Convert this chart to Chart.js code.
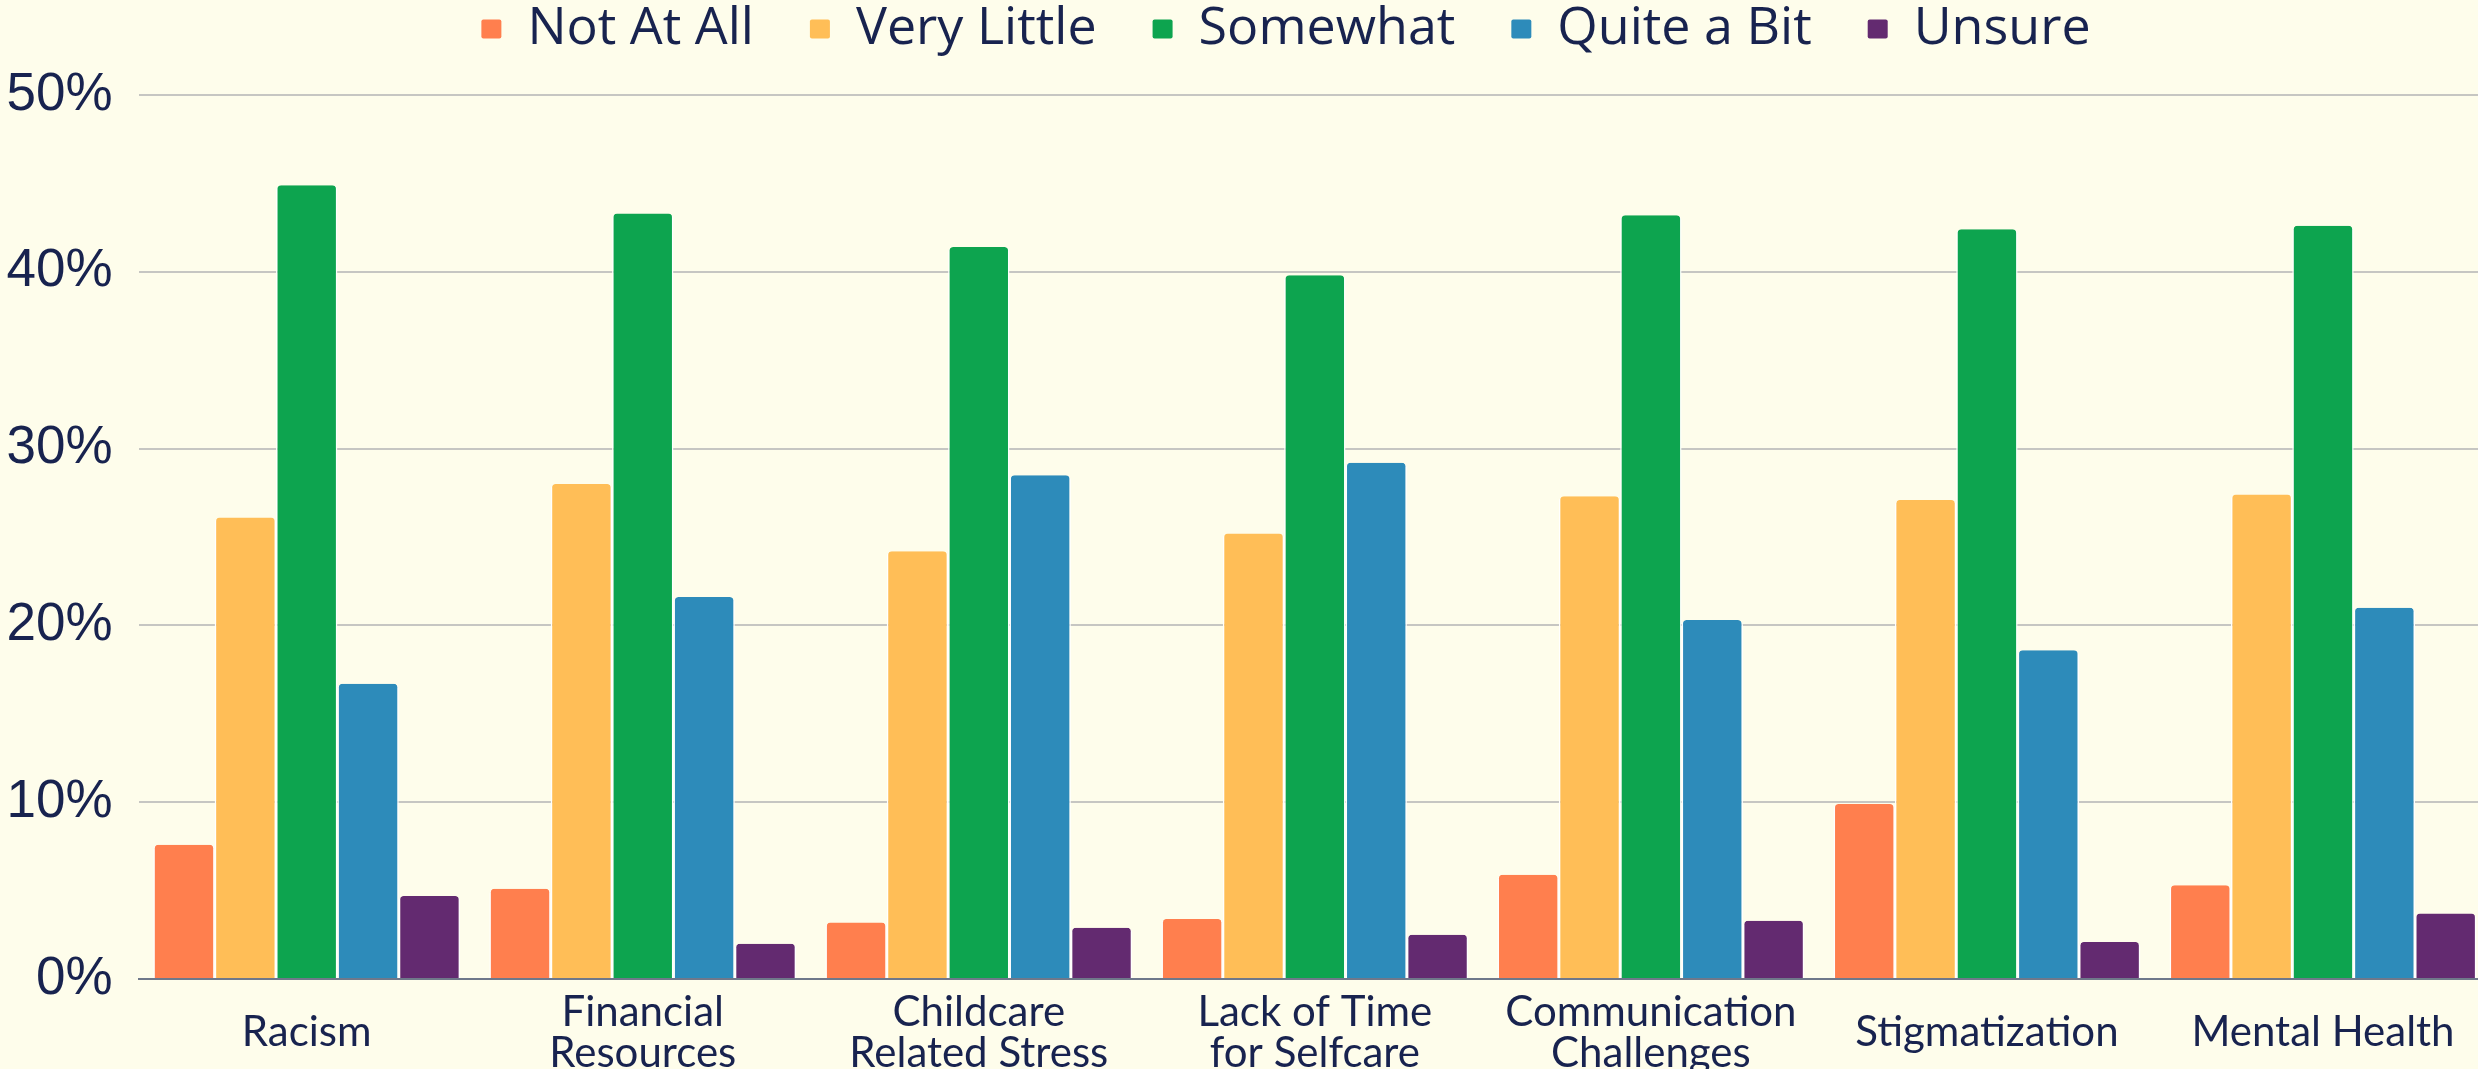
<!DOCTYPE html>
<html>
<head>
<meta charset="utf-8">
<script src="https://cdn.jsdelivr.net/npm/chart.js"></script>
<style>
  html, body { margin: 0; padding: 0; background: #fefdeb; overflow: hidden; }
  #wrap { width: 2478px; height: 1069px; overflow: hidden; }
  canvas { display: block; }
</style>
</head>
<body>
<div id="wrap"><canvas id="barrierChart" width="2491" height="1069" style="width:2491px;height:1069px"></canvas></div>
<script>
// categories and answers (percent of respondents)
const categories = [
    'Racism',
    ['Financial', 'Resources'],
    ['Childcare', 'Related Stress'],
    ['Lack of Time', 'for Selfcare'],
    ['Communication', 'Challenges'],
    'Stigmatization',
    'Mental Health'
];
const seriesNames = ['Not At All', 'Very Little', 'Somewhat', 'Quite a Bit', 'Unsure'];
const notAtAll = [7.6, 5.1, 3.2, 3.4, 5.9, 9.9, 5.3];
const veryLittle = [26.1, 28.0, 24.2, 25.2, 27.3, 27.1, 27.4];
const somewhat = [44.9, 43.3, 41.4, 39.8, 43.2, 42.4, 42.6];
const quiteABit = [16.7, 21.6, 28.5, 29.2, 20.3, 18.6, 21.0];
const unsure = [4.7, 2.0, 2.9, 2.5, 3.3, 2.1, 3.7];
const yTicks = [0, 10, 20, 30, 40, 50];

const colors = ['#ff7f4e', '#ffbe57', '#0da44f', '#2d8bba', '#632a70'];
const navy = '#18234f';

const seriesValues = [notAtAll, veryLittle, somewhat, quiteABit, unsure];

const datasets = seriesNames.map((name, i) => ({
    label: name,
    data: seriesValues[i],
    backgroundColor: colors[i],
    borderColor: '#ffffff',
    borderWidth: {left: 1.5, right: 1.5, top: 0, bottom: 0},
    borderRadius: 5,
    categoryPercentage: 0.913,
    barPercentage: 1.0
}));

// legend: extra room under it, and centred a bit right of the canvas middle
const legendPlace = {
    id: 'legendPlace',
    beforeInit(chart) {
        const fit = chart.legend.fit;
        chart.legend.fit = function () {
            fit.call(this);
            this.height += 30;
        };
    },
    afterLayout(chart) {
        chart.legend.left = 81;
    }
};

const ctx = document.getElementById('barrierChart').getContext('2d');

const barrierChart = new Chart(ctx, {
    type: 'bar',
    data: {
        labels: categories,
        datasets: datasets
    },
    options: {
        responsive: false,
        animation: false,
        devicePixelRatio: 1,
        layout: {
            padding: {top: -53, left: 0, right: 0, bottom: -58}
        },
        plugins: {
            legend: {
                position: 'top',
                labels: {
                    color: navy,
                    font: {family: 'Open Sans', size: 52},
                    boxWidth: 20,
                    boxHeight: 19,
                    padding: 56,
                    useBorderRadius: true,
                    borderRadius: 2,
                    generateLabels(chart) {
                        return Chart.defaults.plugins.legend.labels.generateLabels(chart)
                            .map(item => ({...item, lineWidth: 0}));
                    }
                }
            },
            tooltip: {enabled: false}
        },
        scales: {
            x: {
                grid: {display: false, drawTicks: false},
                border: {display: true, color: '#6f788a', width: 2},
                ticks: {
                    color: navy,
                    font: {family: 'Lato', size: 42, lineHeight: 0.976},
                    padding: 33,
                    crossAlign: 'center',
                    maxRotation: 0,
                    autoSkip: false
                }
            },
            y: {
                min: yTicks[0],
                max: yTicks[yTicks.length - 1],
                afterFit(scale) {
                    scale.width = 138.7;
                },
                grid: {color: '#c6c6c2', lineWidth: 2, drawTicks: false},
                border: {display: false},
                ticks: {
                    stepSize: 10,
                    padding: 26,
                    color: navy,
                    font: {family: 'Liberation Sans', size: 53},
                    callback: v => v + '%'
                }
            }
        }
    },
    plugins: [legendPlace]
});
</script>
</body>
</html>
